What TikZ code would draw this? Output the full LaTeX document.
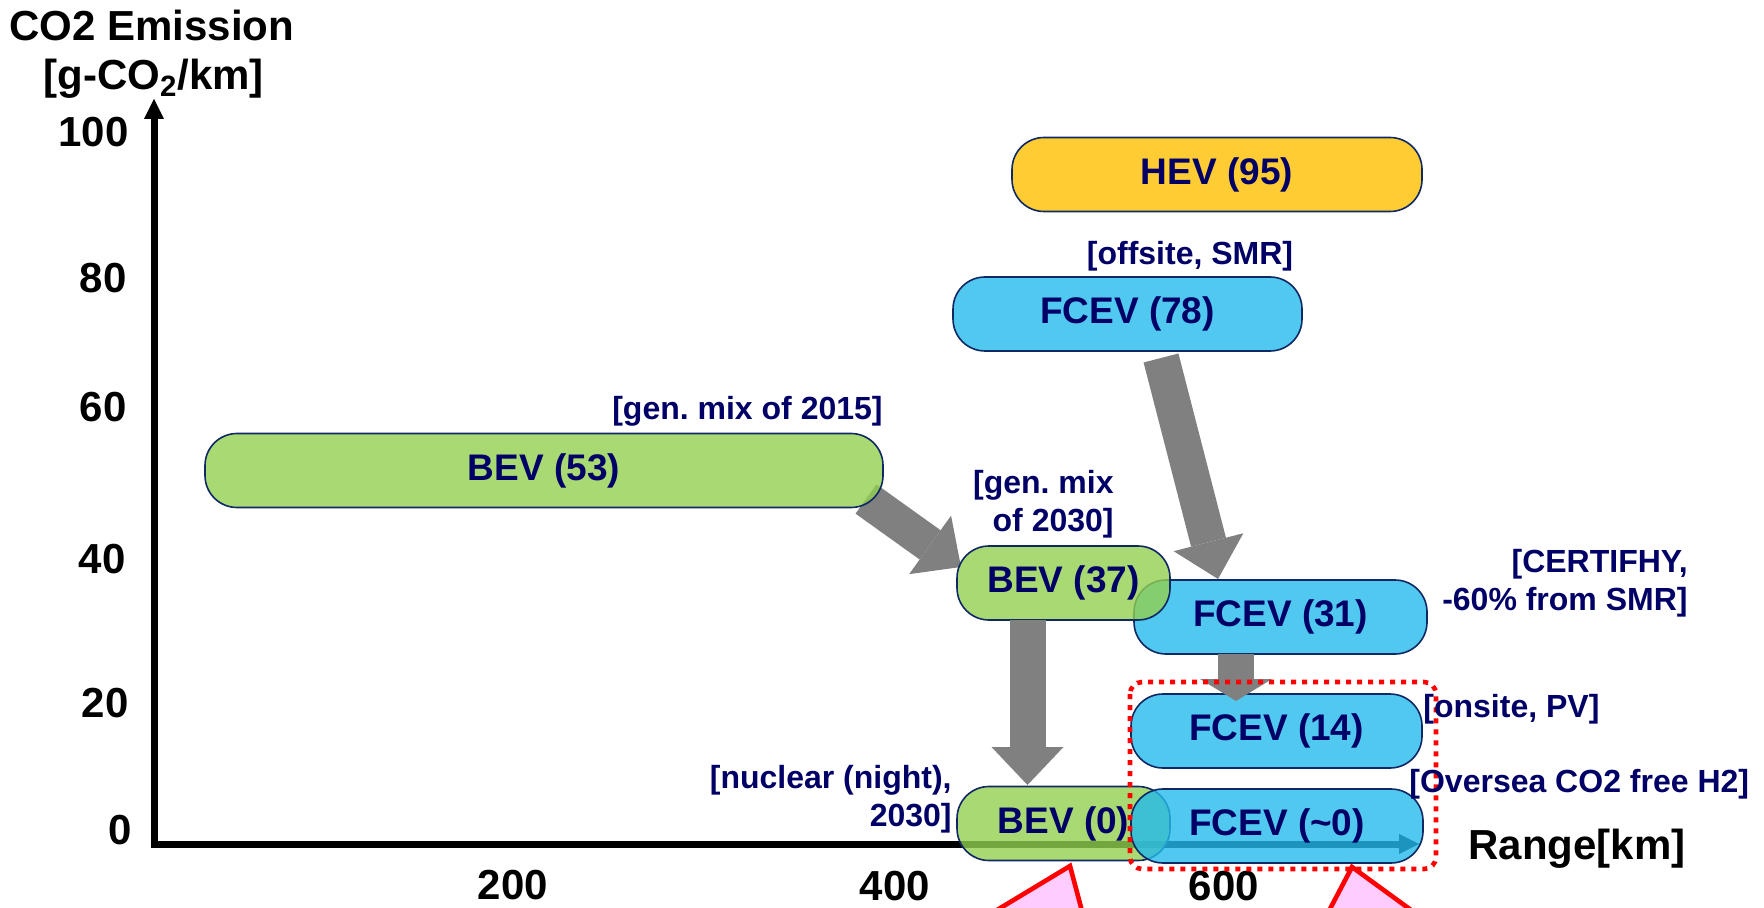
\documentclass[tikz,border=0pt]{standalone}
\usepackage{fontspec}
\setmainfont{Liberation Sans}
\usetikzlibrary{arrows.meta}
\definecolor{navy}{RGB}{0,0,102}
\definecolor{boxline}{RGB}{16,40,100}
\definecolor{bevgreen}{RGB}{146,208,80}
\definecolor{fcblue}{RGB}{36,186,236}
\definecolor{hevyellow}{RGB}{255,204,51}
\definecolor{arrowgray}{RGB}{128,128,128}
\definecolor{pinkfill}{RGB}{255,204,255}
\frenchspacing
\begin{document}
\begin{tikzpicture}[x=0.5pt,y=-0.5pt,
  pill/.style={draw=boxline, line width=0.8pt, rounded corners=16pt, minimum height=37pt, inner sep=0pt, text=navy, font=\fontsize{18.5}{22}\selectfont\bfseries},
  bevbox/.style={pill, fill=bevgreen, fill opacity=0.8, text opacity=1},
  fcbox/.style={pill, fill=fcblue, fill opacity=0.8, text opacity=1},
  hevbox/.style={pill, fill=hevyellow},
  note/.style={text=navy, font=\fontsize{16}{19}\selectfont\bfseries, inner sep=0pt, align=right},
  axlabel/.style={text=black, font=\fontsize{21}{24}\selectfont\bfseries, inner sep=0pt},
  fatarrow/.style={draw=arrowgray, line width=18pt, -{Triangle[width=36pt,length=19pt,line width=0pt]}},
  shortfat/.style={draw=arrowgray, line width=18pt, -{Triangle[width=36pt,length=11pt,line width=0pt]}},
  axisline/.style={line width=3.5pt, {Triangle[width=10pt,length=10pt,line width=0pt]}-{Triangle[width=10pt,length=10pt,line width=0pt]}},
  highlight/.style={red, line width=2.3pt, dash pattern=on 2.5pt off 3pt, rounded corners=6pt},
  callout/.style={red, line width=2.3pt, fill=pinkfill, line join=miter},
]
\useasboundingbox (0,0) rectangle (1764,908);

% axes
\coordinate (ytip) at (154,99);
\coordinate (orig) at (154,844);
\coordinate (xtip) at (1419,844);
\draw[axisline] (ytip) -- (orig) -- (xtip);

\node[axlabel, anchor=west] (ytitle) at (9,25) {CO2 Emission};
\node[axlabel, anchor=west] (yunit) at (43,79) {[g-CO\textsubscript{2}/km]};
\node[axlabel, anchor=east] (t100) at (129,132) {100};
\node[axlabel, anchor=east] (t80) at (127,278) {80};
\node[axlabel, anchor=east] (t60) at (127,407) {60};
\node[axlabel, anchor=east] (t40) at (126,559) {40};
\node[axlabel, anchor=east] (t20) at (129,703) {20};
\node[axlabel, anchor=east] (t0) at (132,830) {0};
\node[axlabel] (x200) at (513,885) {200};
\node[axlabel] (x400) at (895,886) {400};
\node[axlabel] (x600) at (1224,886) {600};
\node[axlabel, anchor=west] (xtitle) at (1468,849) {Range[km]};

% arrow behind BEV(53)
\coordinate (a1s) at (866,499);
\coordinate (a1e) at (961,567);
\draw[fatarrow] (a1s) -- (a1e);

% boxes
\node[bevbox, minimum width=339pt] (bev53) at (544,470.5) {BEV (53)};
\node[hevbox, minimum width=205pt] (hev) at (1217,174.5) {HEV (95)};
\node[fcbox, minimum width=174.5pt] (fcev78) at (1127.5,314) {FCEV (78)};
\node[fcbox, minimum width=146.5pt] (fcev31) at (1280.5,617) {FCEV (31)};
\node[bevbox, minimum width=106.5pt] (bev37) at (1063.5,583) {BEV (37)};
\node[bevbox, minimum width=106.5pt] (bev0) at (1063.5,823.5) {BEV (0)};
\node[fcbox, minimum width=146pt] (fcev0) at (1277,826) {FCEV (\textasciitilde0)};
\node[fcbox, minimum width=145.5pt] (fcev14) at (1276.5,731) {FCEV (14)};

% other arrows
\coordinate (a2s) at (1161,358);
\coordinate (a2e) at (1218,579);
\draw[fatarrow] (a2s) -- (a2e);
\coordinate (a3s) at (1027.5,620);
\coordinate (a3e) at (1027.5,785);
\draw[fatarrow] (a3s) -- (a3e);
\coordinate (a4s) at (1236,654);
\coordinate (a4e) at (1236,701);
\draw[shortfat] (a4s) -- (a4e);

% highlight
\draw[highlight] (1130,682) rectangle (1436,869);

% notes
\node[note] (l78) at (1190,256) {[offsite, SMR]};
\node[note, anchor=east] (l53) at (883,411) {[gen. mix of 2015]};
\node[note, anchor=east] (l37) at (1114,504.5) {[gen. mix\\ of 2030]};
\node[note, anchor=east] (l31) at (1688,583) {[CERTIFHY,\\ -60\% from SMR]};
\node[note, anchor=west] (l14) at (1423,709) {[onsite, PV]};
\node[note, anchor=west] (l0f) at (1409,784) {[Oversea CO2 free H2]};
\node[note, anchor=east] (l0b) at (952,799.5) {[nuclear (night),\\ 2030]};

% callout triangles (cut by page edge)
\begin{scope}
\clip (0,0) rectangle (1764,908);
\draw[callout] (1070,866) -- (939,945) -- (1091,945) -- cycle;
\draw[callout] (1352,867) -- (1311,945) -- (1459,945) -- cycle;
\end{scope}
\end{tikzpicture}
\end{document}
